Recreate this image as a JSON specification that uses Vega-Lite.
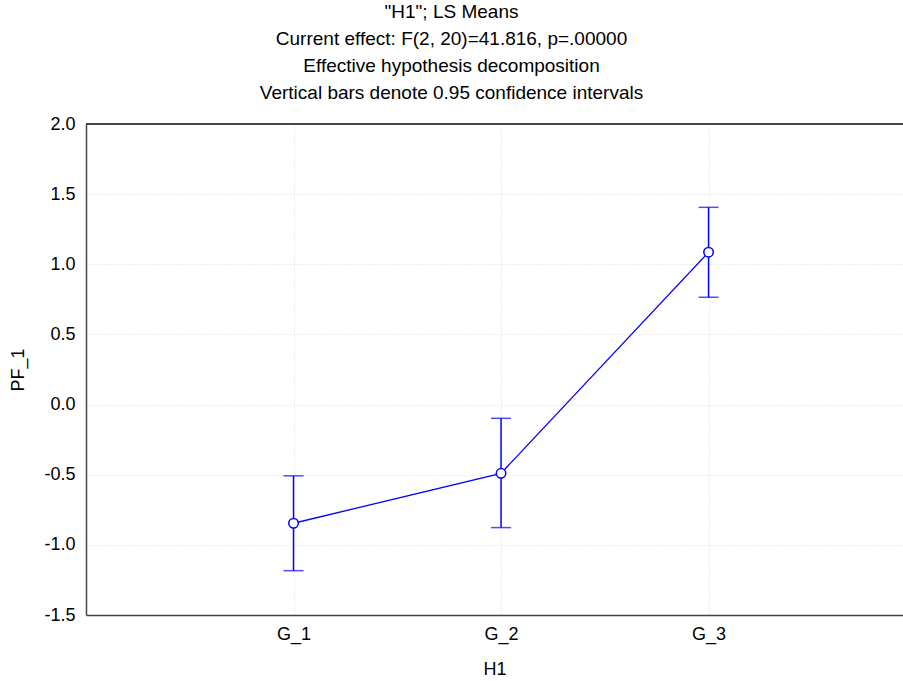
{
  "$schema": "https://vega.github.io/schema/vega-lite/v6.json",
  "autosize": {"type": "none"},
  "padding": {"left": 86, "top": 124, "right": 0, "bottom": 67},
  "width": 817,
  "height": 491,
  "background": "white",
  "config": {
    "view": {"stroke": null},
    "font": "Liberation Sans",
    "axis": {
      "labelFont": "Liberation Sans", "titleFont": "Liberation Sans",
      "labelFontSize": 18, "titleFontSize": 18, "titleFontWeight": "normal",
      "labelColor": "#000", "titleColor": "#000",
      "domainColor": "#444", "domainWidth": 1.5,
      "gridColor": "#dcdcdc", "gridDash": [1, 2], "gridWidth": 1,
      "tickSize": 0
    }
  },
  "title": {
    "text": ["\"H1\"; LS Means", "Current effect: F(2, 20)=41.816, p=.00000", "Effective hypothesis decomposition", "Vertical bars denote 0.95 confidence intervals"],
    "anchor": "middle", "fontSize": 19, "fontWeight": "normal", "font": "Liberation Sans",
    "color": "#000", "lineHeight": 27, "offset": 12, "dx": -43
  },
  "data": {"values": [
    {"group": "G_1", "level": 1, "mean": -0.846, "lo": -1.184, "hi": -0.508},
    {"group": "G_2", "level": 2, "mean": -0.490, "lo": -0.877, "hi": -0.098},
    {"group": "G_3", "level": 3, "mean": 1.086, "lo": 0.765, "hi": 1.406}
  ]},
  "layer": [
    {
      "mark": {"type": "rule", "color": "#444", "strokeWidth": 1.5},
      "encoding": {"y": {"datum": 2.0, "type": "quantitative"}}
    },
    {
      "mark": {"type": "rule", "color": "#0000ff", "strokeWidth": 1.5},
      "encoding": {
        "x": {"field": "level", "type": "quantitative", "scale": {"domain": [0, 3.937], "nice": false, "zero": false},
              "axis": {"orient": "bottom", "values": [1, 2, 3], "labelExpr": "'G_' + datum.value", "title": "H1",
                       "grid": true, "labelPadding": 10, "titlePadding": 17}},
        "y": {"field": "lo", "type": "quantitative", "scale": {"domain": [-1.5, 2.0], "nice": false},
              "axis": {"values": [-1.5, -1, -0.5, 0, 0.5, 1, 1.5, 2], "labelExpr": "replace(format(datum.value, '.1f'), '\u2212', '-')", "title": "PF_1",
                       "grid": true, "labelPadding": 11, "titlePadding": 16}},
        "y2": {"field": "hi"}
      }
    },
    {
      "mark": {"type": "tick", "orient": "horizontal", "color": "#0000ff", "size": 20, "thickness": 1.5},
      "encoding": {
        "x": {"field": "level", "type": "quantitative"},
        "y": {"field": "hi", "type": "quantitative"}
      }
    },
    {
      "mark": {"type": "tick", "orient": "horizontal", "color": "#0000ff", "size": 20, "thickness": 1.5},
      "encoding": {
        "x": {"field": "level", "type": "quantitative"},
        "y": {"field": "lo", "type": "quantitative"}
      }
    },
    {
      "mark": {"type": "line", "color": "#0000ff", "strokeWidth": 1.3},
      "encoding": {
        "x": {"field": "level", "type": "quantitative"},
        "y": {"field": "mean", "type": "quantitative"}
      }
    },
    {
      "mark": {"type": "point", "shape": "circle", "filled": true, "fill": "white", "stroke": "#0000ff", "strokeWidth": 1.5, "size": 90, "opacity": 1},
      "encoding": {
        "x": {"field": "level", "type": "quantitative"},
        "y": {"field": "mean", "type": "quantitative"}
      }
    }
  ]
}
